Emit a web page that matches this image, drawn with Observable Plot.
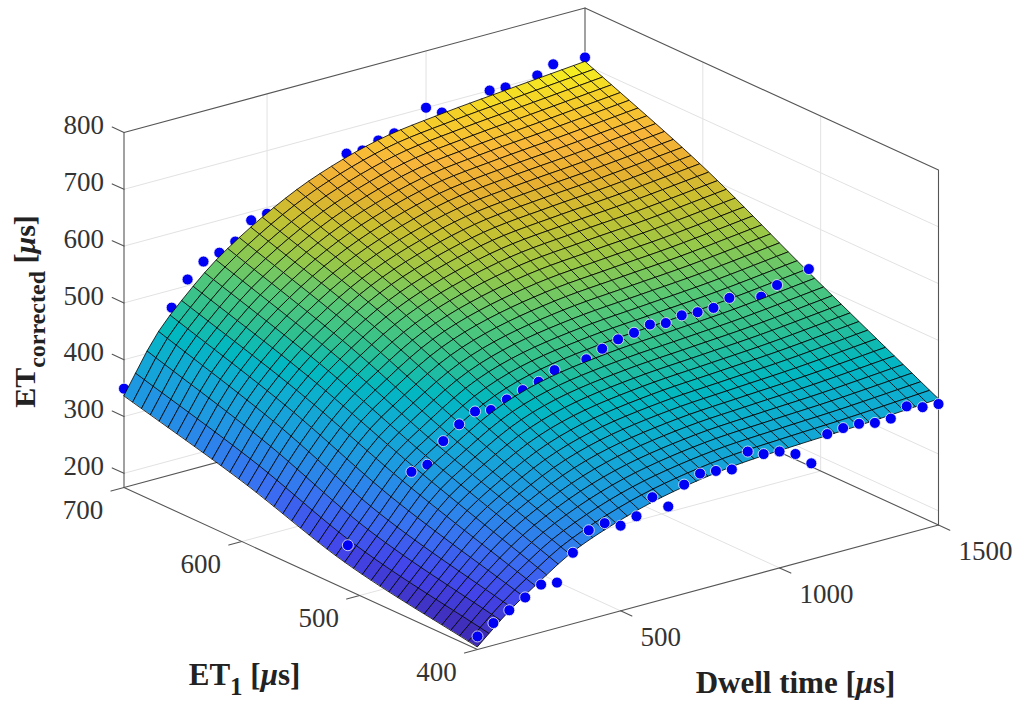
<!DOCTYPE html>
<html>
<head>
<meta charset="utf-8">
<script src="https://cdn.jsdelivr.net/npm/d3@7"></script>
<script src="https://cdn.jsdelivr.net/npm/@observablehq/plot@0.6"></script>
<style>
html,body{margin:0;padding:0;background:#fff}
svg{display:block}
</style>
</head>
<body>
<div id="chart"></div>
<script>
// Surface samples: ET_corrected at (ET1, dwell)
const surfaceDwell = [50,150,250,350,500,650,850,1050,1250,1500];
const surfaceET1 = [400,510,600,700];
const surfaceRows = [
  [180,228,267,302,335,358,376,383,388,397],
  [221,284,346,386,436,464,481,490,499,515],
  [282,360,420,465,518,552,580,592,601,616],
  [337,427,487,536,590,631,666,682,693,706]
];
// Measured points: [dwell, ET_corrected]
const pointsET700 = [[50,349],[150,408],[200,469],[250,511],[300,535],[350,543],[400,555],[450,585],[500,589],[750,657],[800,655],[850,665],[900,670],[1000,700],[1050,684],[1200,700],[1250,698],[1350,704],[1400,716],[1500,713]];
const pointsET510 = [[50,254],[250,353],[300,358],[350,392],[400,414],[450,429],[500,424],[550,435],[600,444],[650,451],[700,464],[800,468],[850,479],[900,488],[950,492],[1000,499],[1050,494],[1100,500],[1150,498],[1200,498],[1250,508],[1350,495],[1400,508],[1500,521]];
const pointsET400 = [[50,198],[100,214],[150,229],[200,244],[250,259],[300,255],[350,300],[400,332],[450,337],[500,325],[550,334],[600,360],[650,336],[700,367],[750,379],[800,376],[850,371],[900,395],[950,383],[1000,380],[1050,368],[1100,344],[1150,388],[1200,391],[1250,391],[1300,385],[1350,385],[1400,399],[1450,390],[1500,388]];
// Axis ticks
const dwellTicks = [500,1000,1500];
const et1Ticks = [400,500,600,700];
const zTicks = [200,300,400,500,600,700,800];
const parulaStops = [0,0.11,0.2,0.32,0.43,0.49,0.56,0.63,0.71,0.78,0.84,0.89,0.95,1];
const parulaColors = ["#3e26a8","#4345ea","#3a70f2","#1f98e2","#0eaed0","#02b8c0","#30c090","#55c878","#98c848","#c8c030","#e8b030","#f8b63a","#f5d028","#f5f520"];

const D0=50,D1=1500,E0=400,E1=700,Z0=175,Z1=800,MESH=40;
// Orthographic view of the box
function px(d,e){return 477+461*(d-D0)/(D1-D0)-353.5*(e-E0)/(E1-E0);}
function py(d,e,z){return 649-124.5*(d-D0)/(D1-D0)-162*(e-E0)/(E1-E0)-355*(z-Z0)/(Z1-Z0);}
const P=(d,e,z,extra={})=>({x:px(d,e),y:py(d,e,z),...extra});

function hermite(xs,ys,x){
  let i=Math.min(xs.length-2,Math.max(0,d3.bisectRight(xs,x)-1));
  const tan=k=>k<=0?(ys[1]-ys[0])/(xs[1]-xs[0]):k>=xs.length-1?(ys[k]-ys[k-1])/(xs[k]-xs[k-1]):(ys[k+1]-ys[k-1])/(xs[k+1]-xs[k-1]);
  const h=xs[i+1]-xs[i],t=(x-xs[i])/h,t2=t*t,t3=t2*t;
  return (2*t3-3*t2+1)*ys[i]+(t3-2*t2+t)*h*tan(i)+(-2*t3+3*t2)*ys[i+1]+(t3-t2)*h*tan(i+1);
}
const zAt=(d,e)=>hermite(surfaceET1,surfaceRows.map(r=>hermite(surfaceDwell,r,d)),e);

// Mesh cells, far to near
const gridD=d3.range(MESH+1).map(i=>D0+(D1-D0)*i/MESH);
const gridE=d3.range(MESH+1).map(j=>E0+(E1-E0)*j/MESH);
const Z=gridE.map(e=>gridD.map(d=>zAt(d,e)));
const SPLIT=14;
const farCells=[],nearCells=[];
for(let j=MESH-1;j>=0;j--){
  for(let i=MESH-1;i>=0;i--){
    const id=j*100+i;
    const v=(Z[j][i]+Z[j][i+1]+Z[j+1][i]+Z[j+1][i+1])/4;
    const out=j>=SPLIT?farCells:nearCells;
    [[i,j],[i+1,j],[i+1,j+1],[i,j+1]].forEach(([a,b])=>out.push(P(gridD[a],gridE[b],Z[b][a],{id,v})));
  }
}
const surfaceMark=cells=>Plot.line(cells,{x:"x",y:"y",z:"id",fill:"v",stroke:"#000",strokeWidth:1,strokeOpacity:0.8,curve:"linear-closed"});

// Segments
function segs(list){
  const out=[];
  list.forEach((s,id)=>s.forEach(p=>out.push(P(p[0],p[1],p[2],{id}))));
  return out;
}
const gridSegs=segs([
  ...zTicks.filter(z=>z<Z1).map(z=>[[D0,E1,z],[D1,E1,z],[D1,E0,z]]),
  ...dwellTicks.filter(d=>d<D1).flatMap(d=>[[[d,E0,Z0],[d,E1,Z0],[d,E1,Z1]]]),
  ...et1Ticks.filter(e=>e>E0&&e<E1).flatMap(e=>[[[D0,e,Z0],[D1,e,Z0],[D1,e,Z1]]])
]);
const boxSegs=segs([
  [[D0,E1,Z0],[D0,E1,Z1],[D1,E1,Z1],[D1,E0,Z1],[D1,E0,Z0]],
  [[D1,E1,Z1],[D1,E1,Z0]],
  [[D0,E1,Z0],[D1,E1,Z0],[D1,E0,Z0]]
]);
const frontSegs=segs([
  [[D0,E1,Z0],[D0,E0,Z0],[D1,E0,Z0]],
  ...zTicks.map(z=>[[D0,E1,z],[D0,E1+10,z]]),
  ...et1Ticks.map(e=>[[D0,e,Z0],[D0-41,e,Z0]]),
  ...dwellTicks.map(d=>[[d,E0,Z0],[d,E0-9.6,Z0]])
]);

const serif="'Liberation Serif','Times New Roman',serif";
const pts=(arr,e)=>arr.map(([d,z])=>P(d,e,z));
const dotOpts={x:"x",y:"y",r:5.5,fill:"#0000f5",stroke:"#fff",strokeWidth:1,strokeOpacity:0.75};
const tickText={fontFamily:serif,fontSize:27,fill:"#333"};
const lineMark=(data,stroke,w)=>Plot.line(data,{x:"x",y:"y",z:"id",stroke,strokeWidth:w});

const chart=Plot.plot({
  width:1017,height:705,margin:0,
  style:{background:"#fff",fontFamily:serif},
  x:{type:"linear",domain:[0,1017],range:[0,1017],axis:null},
  y:{type:"linear",domain:[0,705],range:[0,705],axis:null},
  color:{type:"linear",domain:parulaStops.map(t=>180+526*t),range:parulaColors,clamp:true},
  marks:[
    lineMark(gridSegs,"#e2e2e2",1),
    lineMark(boxSegs,"#555",1.1),
    lineMark(frontSegs,"#555",1.1),
    Plot.dot(pts(pointsET700,700),dotOpts),
    surfaceMark(farCells),
    Plot.dot(pts(pointsET510,510),dotOpts),
    surfaceMark(nearCells),
    Plot.dot(pts(pointsET400,400),dotOpts),
    Plot.text(zTicks,{x:z=>px(D0,E1),y:z=>py(D0,E1,z),text:String,dx:-20,dy:-7,textAnchor:"end",lineAnchor:"middle",...tickText}),
    Plot.text(et1Ticks,{x:e=>px(D0,e),y:e=>py(D0,e,Z0),text:String,dx:-41,dy:23,textAnchor:"middle",lineAnchor:"middle",...tickText}),
    Plot.text(dwellTicks,{x:d=>px(d,E0),y:d=>py(d,E0,Z0),text:String,dx:20,dy:26,textAnchor:"start",lineAnchor:"middle",...tickText}),
    Plot.text(["Dwell time [\u03bcs]"],{x:()=>px(D1,E0),y:()=>py(D1,E0,Z0),dx:-143,dy:158,textAnchor:"middle",lineAnchor:"middle",fontFamily:serif,fontSize:31,fontWeight:"bold",fill:"#222"}),
    Plot.text(["ET1 [\u03bcs]"],{x:()=>px(D0,E0),y:()=>py(D0,E0,Z0),dx:-233,dy:26,textAnchor:"middle",lineAnchor:"middle",fontFamily:serif,fontSize:31,fontWeight:"bold",fill:"#222"}),
    Plot.text(["ETcorrected [\u03bcs]"],{x:()=>px(D0,E1),y:()=>py(D0,E1,Z0),dx:-99,dy:-176,rotate:-90,textAnchor:"middle",lineAnchor:"middle",fontFamily:serif,fontSize:30,fontWeight:"bold",fill:"#222"})
  ]
});
const mu='<tspan font-style="italic">\u03bc</tspan>s]';
chart.querySelectorAll("text").forEach(t=>{
  const s=t.textContent;
  if(s.startsWith("Dwell")) t.innerHTML='Dwell time ['+mu;
  else if(s.startsWith("ET1")) t.innerHTML='ET<tspan dy="10" font-size="25">1</tspan><tspan dy="-10"> [</tspan>'+mu;
  else if(s.startsWith("ETcorrected")) t.innerHTML='ET<tspan dy="10" font-size="24">corrected</tspan><tspan dy="-10"> [</tspan>'+mu;
});
document.getElementById("chart").appendChild(chart);
</script>
</body>
</html>
